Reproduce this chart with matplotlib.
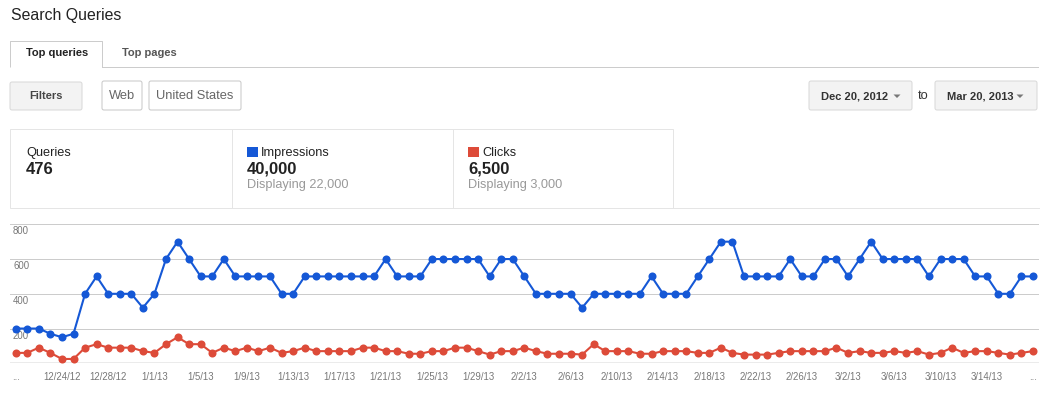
import matplotlib
matplotlib.use("Agg")
import matplotlib.pyplot as plt
import matplotlib.transforms as mtransforms
from matplotlib.patches import FancyBboxPatch, Rectangle, Polygon

plt.rcParams['font.family'] = ['Liberation Sans', 'DejaVu Sans']

# ---------------- data ----------------
impressions = [200, 200, 200, 170, 150, 170, 400, 500, 400, 400, 400, 320, 400, 600, 700,
               600, 500, 500, 600, 500, 500, 500, 500, 400, 400, 500, 500, 500, 500, 500,
               500, 500, 600, 500, 500, 500, 600, 600, 600, 600, 600, 500, 600, 600, 500,
               400, 400, 400, 400, 320, 400, 400, 400, 400, 400, 500, 400, 400, 400, 500,
               600, 700, 700, 500, 500, 500, 500, 600, 500, 500, 600, 600, 500, 600, 700,
               600, 600, 600, 600, 500, 600, 600, 600, 500, 500, 400, 400, 500, 500]
clicks = [60, 60, 90, 60, 25, 25, 90, 110, 90, 90, 90, 70, 60, 110, 150,
          110, 110, 60, 90, 70, 90, 70, 90, 60, 70, 90, 70, 70, 70, 70,
          90, 90, 70, 70, 55, 55, 70, 70, 90, 90, 70, 50, 70, 70, 90,
          70, 55, 55, 55, 50, 110, 70, 70, 70, 55, 55, 70, 70, 70, 60,
          60, 90, 60, 50, 50, 50, 60, 70, 70, 70, 70, 90, 60, 70, 60,
          60, 70, 60, 70, 50, 60, 90, 60, 70, 70, 60, 50, 60, 70]
x_tick_labels = ['...', '12/24/12', '12/28/12', '1/1/13', '1/5/13', '1/9/13', '1/13/13',
                 '1/17/13', '1/21/13', '1/25/13', '1/29/13', '2/2/13', '2/6/13', '2/10/13',
                 '2/14/13', '2/18/13', '2/22/13', '2/26/13', '3/2/13', '3/6/13', '3/10/13',
                 '3/14/13', '...']
y_ticks = [200, 400, 600, 800]
summary_labels = ['Queries', 'Impressions', 'Clicks']
summary_values = ['476', '40,000', '6,500']
summary_sub = ['', 'Displaying 22,000', 'Displaying 3,000']

BLUE = '#1558d6'
RED = '#dd4b39'
W, H = 1050, 394

fig = plt.figure(figsize=(W / 100, H / 100), dpi=100, facecolor='white')

# ---------------- page chrome (pixel coordinates) ----------------
bg = fig.add_axes([0, 0, 1, 1])
bg.set_xlim(0, W)
bg.set_ylim(H, 0)
bg.axis('off')
PX = 0.72

bg.text(11, 20, 'Search Queries', fontsize=11.4, color='#222222', va='baseline', ha='left')

# tabs
bg.plot([10, 10, 102, 102], [67, 41, 41, 67], color='#cccccc', lw=PX, solid_capstyle='butt')
bg.plot([102, 1038], [67, 67], color='#cccccc', lw=PX)
bg.text(57, 53, 'Top queries', fontsize=8, fontweight='bold', color='#222222',
        ha='center', va='center')
bg.text(149, 53, 'Top pages', fontsize=8, fontweight='bold', color='#555555',
        ha='center', va='center')


def button(x0, y0, x1, y1, fc, ec):
    bg.add_patch(FancyBboxPatch((x0, y0), x1 - x0, y1 - y0,
                                boxstyle='round,pad=0,rounding_size=2',
                                fc=fc, ec=ec, lw=PX))


def arrow(cx, cy):
    bg.add_patch(Polygon([[cx - 3.5, cy - 1.5], [cx + 3.5, cy - 1.5], [cx, cy + 2]],
                         closed=True, fc='#777777', ec='none'))


button(10, 82, 82, 110, '#f3f3f3', '#d9d9d9')
bg.text(46, 96, 'Filters', fontsize=7.9, fontweight='bold', color='#444444',
        ha='center', va='center')
button(102, 81, 142, 110, 'white', '#c8c8c8')
bg.text(122, 96, 'Web', fontsize=9.3, color='#666666', ha='center', va='center')
button(149, 81, 241, 110, 'white', '#c8c8c8')
bg.text(195, 96, 'United States', fontsize=9.3, color='#666666', ha='center', va='center')

button(809, 81, 912, 110, '#f3f3f3', '#d9d9d9')
bg.text(855, 96, 'Dec 20, 2012', fontsize=8, fontweight='bold', color='#333333',
        ha='center', va='center')
arrow(897, 96)
bg.text(923, 96, 'to', fontsize=9.3, color='#333333', ha='center', va='center')
button(935, 81, 1037, 110, '#f3f3f3', '#d9d9d9')
bg.text(980, 96, 'Mar 20, 2013', fontsize=8, fontweight='bold', color='#333333',
        ha='center', va='center')
arrow(1020, 96)

# summary box
bg.add_patch(Rectangle((10, 129), 663, 79, fc='none', ec='#e5e5e5', lw=PX))
for xd in (231.5, 452.5):
    bg.plot([xd, xd], [129, 208], color='#e5e5e5', lw=PX)
bg.plot([673, 1039], [208, 208], color='#e5e5e5', lw=PX)

col_x = [26, 247, 468]
swatch = [None, BLUE, RED]
for i in range(3):
    tx = col_x[i]
    if swatch[i] is not None:
        bg.add_patch(Rectangle((tx, 147), 10.5, 10, fc=swatch[i], ec='none'))
        tx_label = tx + 14
    else:
        tx_label = tx
    bg.text(tx_label, 156, summary_labels[i], fontsize=9.2, color='#222222',
            ha='left', va='baseline')
    bg.text(tx, 173.5, summary_values[i], fontsize=12, fontweight='bold',
            color='#222222', ha='left', va='baseline')
    if summary_sub[i]:
        bg.text(tx, 188, summary_sub[i], fontsize=9.2, color='#999999',
                ha='left', va='baseline')

# ---------------- chart ----------------
left_px, right_px = 10, 1039
top_px, base_px = 224.3, 363.3
ax = fig.add_axes([left_px / W, (H - base_px) / H,
                   (right_px - left_px) / W, (base_px - top_px) / H])
ax.set_facecolor('none')
n = len(impressions)
days = list(range(n))
px_per_day = (1033 - 15.7) / (n - 1)
ax.set_xlim(-(15.7 - left_px) / px_per_day, (right_px - 15.7) / px_per_day)
ax.set_ylim(0, 800)
for s in ax.spines.values():
    s.set_visible(False)

for v in y_ticks:
    ax.axhline(v, color='#cccccc', lw=PX, zorder=1)
ax.axhline(0, color='#999999', lw=1.0, zorder=1)

ylab_tr = mtransforms.offset_copy(ax.get_yaxis_transform(), fig=fig, x=0, y=-7, units='dots')
for v in y_ticks:
    ax.text(3 / (right_px - left_px), v, str(v), transform=ylab_tr, fontsize=6.9,
            color='#777777', ha='left', va='center', zorder=2)

ax.set_yticks([])
ax.set_xticks(list(range(0, n, 4)))
ax.set_xticklabels(x_tick_labels, fontsize=6.9, color='#777777')
ax.tick_params(axis='x', length=0, pad=6)

ax.plot(days, impressions, color=BLUE, lw=1.5, marker='o', ms=5.8,
        markeredgewidth=0, clip_on=False, zorder=4)
ax.plot(days, clicks, color=RED, lw=1.5, marker='o', ms=5.8,
        markeredgewidth=0, clip_on=False, zorder=3)

fig.savefig('out.png', dpi=100, facecolor='white')
